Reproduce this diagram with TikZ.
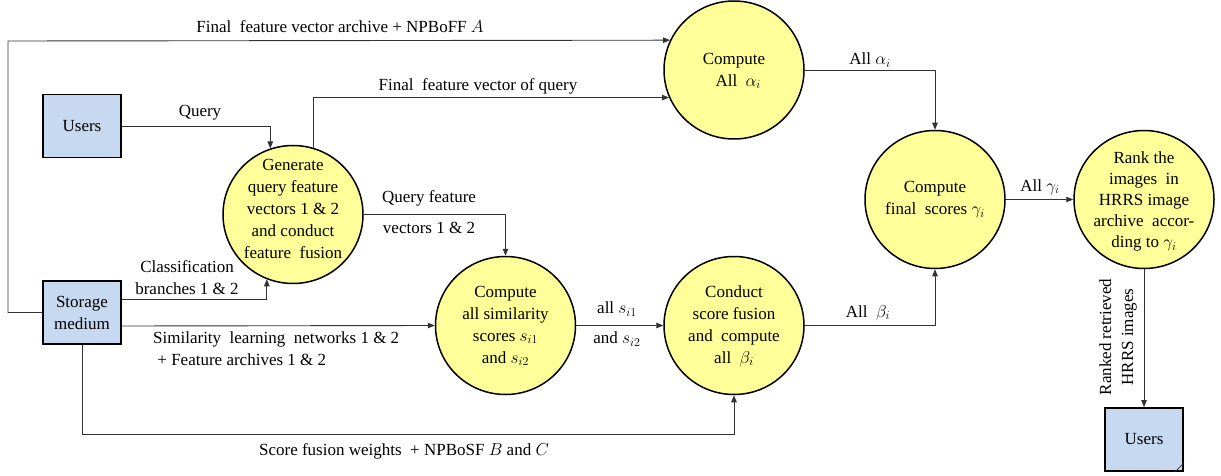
\documentclass[tikz,border=0pt]{standalone}
\usepackage{fontspec}
\setmainfont{Liberation Serif}
\usetikzlibrary{arrows.meta,shapes.geometric}
\definecolor{boxblue}{RGB}{198,217,241}
\definecolor{circyellow}{RGB}{255,255,153}
\definecolor{linegray}{RGB}{50,50,50}
\begin{document}
\begin{tikzpicture}[x=1pt,y=-1pt,
  font=\fontsize{17}{22}\selectfont,
  proc/.style={ellipse, draw=black, line width=1.5pt, fill=circyellow,
    minimum width=140pt, minimum height=138pt, inner sep=0pt},
  ext/.style={rectangle, draw=black, line width=1.8pt, fill=boxblue,
    minimum width=78pt, minimum height=63pt, inner sep=0pt, align=center},
  txt/.style={align=center, inner sep=0pt},
  lbl/.style={align=center, inner sep=0pt},
  conn/.style={draw=linegray, line width=0.9pt, -{Triangle[length=7pt,width=5.5pt]}},
  thinl/.style={draw=linegray, line width=0.9pt}]
\useasboundingbox (0,0) rectangle (1221,476);

% external entities
\node[ext] (users) at (82,126) {Users};
\node[ext] (store) at (82,312.5) {Storage\\medium};
\node[ext] (users2) at (1144,439.5) {Users};
\draw[thinl, line width=0.7pt] ([xshift=-9pt]users2.south east) -- ([yshift=9pt]users2.south east);

% processes
\node[proc] (gen) at (293,214.5) {};
\node[proc] (alpha) at (734,70) {};
\node[proc] (sim) at (505.5,325.5) {};
\node[proc] (beta) at (734,325.5) {};
\node[proc] (fin) at (935,199.5) {};
\node[proc] (rank) at (1144,199.5) {};

\node[txt] (genT) at (293,208.5) {Generate\\query feature\\vectors 1 \& 2\\and conduct\\feature\ \ fusion};
\node[txt] (alphaT) at (734,71) {Compute\\\ \ All\ \ $\alpha_i$};
\node[txt] (simT) at (505.5,326) {Compute\\all similarity\\scores $s_{i1}$\\and $s_{i2}$};
\node[txt] (betaT) at (734,326) {Conduct\\score fusion\\and\ \ compute\\all\ \ $\beta_i$};
\node[txt] (finT) at (935,200) {Compute\\final\ \ scores $\gamma_i$};
\node[txt, font=\fontsize{17}{21}\selectfont] (rankT) at (1144,201.5) {Rank the\\images\ \ in\\HRRS image\\archive\ \ accor-\\ding to $\gamma_i$};

% connectors
\coordinate (tl) at (8,41);
\draw[conn] (store.west) -| (tl) -- (alpha.155);
\draw[conn] (users.east) -| (gen.109.6);
\draw[conn] (gen.73) |- (alpha.203);
\draw[conn] (gen.east) -| (sim.north);
\draw[conn] ([yshift=13.5pt]store.east) -| (gen.248);
\draw[conn] ([yshift=-13.5pt]store.east) -- (sim.west);
\coordinate (bc) at (734,434);
\draw[conn] (store.south) |- (bc) -- (beta.south);
\draw[conn] (sim.east) -- (beta.west);
\draw[conn] (beta.east) -| (fin.south);
\draw[conn] (alpha.east) -| (fin.north);
\draw[conn] (fin.east) -- (rank.west);
\draw[conn] (rank.south) -- (users2.north);

% labels
\node[lbl] (l1) at (340,27) {Final\ \ feature vector archive + NPBoFF $A$};
\node[lbl] (l2) at (200,113) {Query};
\node[lbl] (l3) at (478,86) {Final\ \ feature vector of query};
\node[lbl] (l4) at (429,198) {Query feature};
\node[lbl] (l5) at (429,228) {vectors 1 \& 2};
\node[lbl] (l6) at (187,278) {Classification\\branches 1 \& 2};
\node[lbl, align=left, anchor=west] (l7) at (153,348.5) {Similarity\ \ learning\ \ networks 1 \& 2\\\ + Feature archives 1 \& 2};
\node[lbl] (l8) at (404,451) {Score fusion weights\ \ + NPBoSF $B$ and $C$};
\node[lbl] (l9) at (617,309) {all $s_{i1}$};
\node[lbl] (l10) at (617,339) {and $s_{i2}$};
\node[lbl] (l11) at (870,60) {All $\alpha_i$};
\node[lbl] (l12) at (1040,187) {All $\gamma_i$};
\node[lbl] (l13) at (868,313) {All\ \ $\beta_i$};
\node[lbl, rotate=90] (l14) at (1118,337) {Ranked retrieved\\HRRS images};
\end{tikzpicture}
\end{document}
